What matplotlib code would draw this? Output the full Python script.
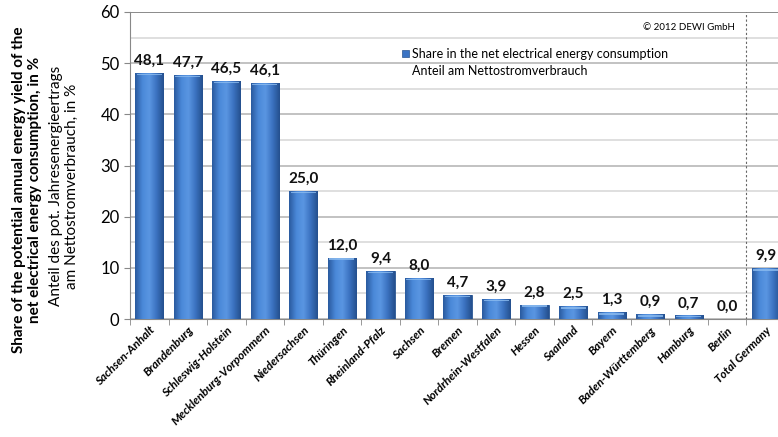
import matplotlib
matplotlib.use("Agg")
import matplotlib.pyplot as plt
import numpy as np
from matplotlib.colors import LinearSegmentedColormap
from matplotlib.patches import Rectangle

categories = ["Sachsen-Anhalt", "Brandenburg", "Schleswig-Holstein", "Mecklenburg-Vorpommern",
              "Niedersachsen", "Thüringen", "Rheinland-Pfalz", "Sachsen", "Bremen",
              "Nordrhein-Westfalen", "Hessen", "Saarland", "Bayern", "Baden-Württemberg",
              "Hamburg", "Berlin", "Total Germany"]
values = [48.1, 47.7, 46.5, 46.1, 25.0, 12.0, 9.4, 8.0, 4.7, 3.9, 2.8, 2.5, 1.3, 0.9, 0.7, 0.0, 9.9]
labels = ["48,1", "47,7", "46,5", "46,1", "25,0", "12,0", "9,4", "8,0", "4,7", "3,9",
          "2,8", "2,5", "1,3", "0,9", "0,7", "0,0", "9,9"]
yticks = [0, 10, 20, 30, 40, 50, 60]

plt.rcParams['font.family'] = ['Lato', 'DejaVu Sans']

fig = plt.figure(figsize=(7.78, 4.37), dpi=100)
ax = fig.add_axes([130/778, 1-319/437, 655/778, (319-12)/437])

x = np.arange(len(categories))
w = 0.73
cmap = LinearSegmentedColormap.from_list("bar", ["#2a5a9e", "#4a88d8", "#5a96e2", "#3b72c0", "#24508e"])
grad = np.linspace(0, 1, 64).reshape(1, -1)
bars = ax.bar(x, values, width=w, color="#3b74c4", edgecolor="#2a5590", linewidth=0.6, zorder=3)
for b in bars:
    if b.get_height() <= 0:
        continue
    x0, y0 = b.get_x(), b.get_y()
    im = ax.imshow(grad, cmap=cmap, aspect='auto', extent=[x0, x0 + b.get_width(), y0, y0 + b.get_height()],
                   zorder=3.5, interpolation='bicubic')
    im.set_clip_path(b)
    ax.add_patch(Rectangle((x0 + 0.04, b.get_height() - min(0.45, b.get_height() * 0.5)), b.get_width() - 0.08,
                           min(0.3, b.get_height() * 0.4), facecolor="#8cbcf0", edgecolor="none", alpha=0.8, zorder=4))

for xi, v, lab in zip(x, values, labels):
    ax.text(xi, v + 1.0, lab, ha='center', va='bottom', fontsize=11, fontweight='bold', color='#111111', zorder=5)

ax.set_xlim(-0.5, len(categories) - 0.5)
ax.set_ylim(0, 60)
ax.set_yticks(yticks)
ax.set_yticklabels([str(t) for t in yticks], fontsize=12)
ax.set_yticks(np.arange(5, 60, 10), minor=True)
ax.tick_params(axis='y', which='minor', length=0)
ax.tick_params(axis='y', which='major', length=4, color='#888888')
ax.grid(axis='y', which='major', color='#bdbdbd', linewidth=1.3, zorder=0)
ax.grid(axis='y', which='minor', color='#d6d6d6', linewidth=1.1, zorder=0)
ax.set_axisbelow(True)

ax.set_xticks(x)
ax.set_xticklabels(categories, rotation=45, ha='right', rotation_mode='anchor', fontsize=8.5,
                   fontweight='bold', fontstyle='italic')
ax.set_xticks(np.arange(-0.5, len(categories), 1), minor=True)
ax.tick_params(axis='x', which='major', length=0, pad=4)
ax.tick_params(axis='x', which='minor', length=4, color='#888888')

for s in ['top', 'right']:
    ax.spines[s].set_visible(False)
ax.spines['left'].set_color('#888888')
ax.spines['bottom'].set_color('#888888')
ax.axhline(60, color='#888888', linewidth=1.3, zorder=1)
ax.axvline(len(categories) - 1.5, color='#666666', linewidth=0.8, linestyle=(0, (2, 2)), zorder=2)

ax.text(0.924, 0.948, "© 2012 DEWI GmbH", transform=ax.transAxes, ha='right', va='center', fontsize=7)
ax.add_patch(Rectangle((402/778, 1-57/437), 7/778, 7/437, transform=fig.transFigure, facecolor="#3b74c4",
                       edgecolor="#2a5590", linewidth=0.5, zorder=6, clip_on=False))
fig.text(412/778, 1-54/437, "Share in the net electrical energy consumption", fontsize=9, va='center')
fig.text(412/778, 1-71/437, "Anteil am Nettostromverbrauch", fontsize=9, va='center')

fig.text(27/778, 1-190/437, "Share of the potential annual energy yield of the\nnet electrical energy consumption, in %",
         rotation=90, ha='center', va='center', fontsize=11, fontweight='bold', linespacing=1.2)
fig.text(64/778, 1-186/437, "Anteil des pot. Jahresenergieertrags\nam Nettostromverbrauch, in %",
         rotation=90, ha='center', va='center', fontsize=11, linespacing=1.2)

fig.savefig("out.png", dpi=100)
